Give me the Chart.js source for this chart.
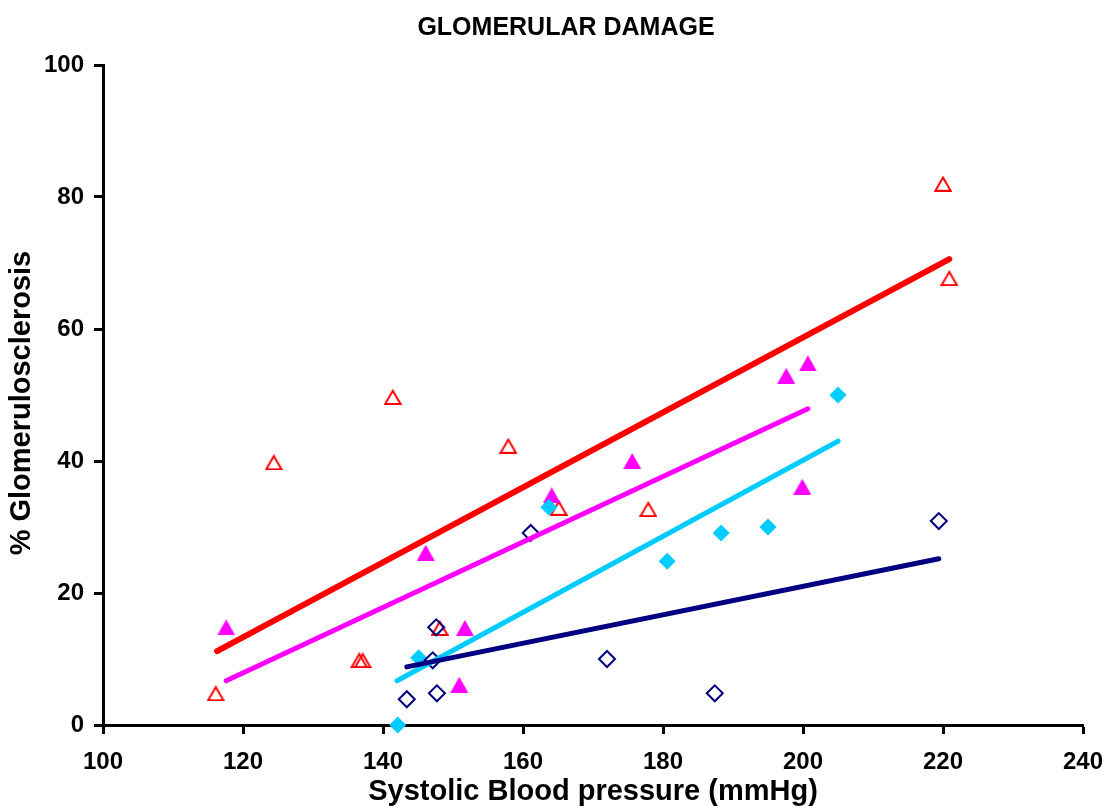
<!DOCTYPE html>
<html>
<head>
<meta charset="utf-8">
<script src="https://cdn.jsdelivr.net/npm/chart.js@4/dist/chart.umd.min.js"></script>
<style>
  html, body { margin: 0; padding: 0; background: #fff; }
  #wrap { width: 1108px; height: 809px; }
</style>
</head>
<body>
<div id="wrap"><canvas id="chart" width="1108" height="809"></canvas></div>
<script>
// chart text
const chartTitle = 'GLOMERULAR DAMAGE';
const xTitle = 'Systolic Blood pressure (mmHg)';
const yTitle = '% Glomerulosclerosis  ';

// axis ranges / ticks
const xTicks = [100, 120, 140, 160, 180, 200, 220, 240];
const yTicks = [0, 20, 40, 60, 80, 100];

// open red triangles
const redX = [116.1, 124.4, 136.6, 137.1, 141.4, 148.1, 157.9, 165.1, 177.9, 220.0, 220.9];
const redY = [4.8, 39.8, 9.8, 9.8, 49.7, 14.7, 42.3, 32.9, 32.7, 82.0, 67.7];

// filled magenta triangles
const magX = [117.6, 146.1, 150.9, 151.7, 164.1, 175.6, 197.6, 200.7, 199.9];
const magY = [14.8, 26.1, 6.1, 14.7, 34.8, 40.0, 52.9, 54.8, 36.1];

// filled cyan diamonds
const cyanX = [142.1, 145.1, 163.7, 180.6, 188.3, 195.0, 205.0];
const cyanY = [0, 10.2, 33.0, 24.8, 29.1, 30.0, 50.0];

// open navy diamonds
const navyX = [143.4, 147.7, 147.1, 147.6, 161.1, 172.0, 187.4, 219.4];
const navyY = [3.9, 4.8, 9.8, 14.8, 29.1, 10.0, 4.8, 30.9];

// trend line end points
const redLineX = [116.3, 220.9];
const redLineY = [11.2, 70.6];
const magLineX = [117.6, 200.7];
const magLineY = [6.7, 47.9];
const cyanLineX = [142.0, 205.0];
const cyanLineY = [6.7, 43.0];
const navyLineX = [143.4, 219.4];
const navyLineY = [8.8, 25.2];

const RED = '#ff0000';
const MAGENTA = '#ff00ff';
const CYAN = '#00ccff';
const NAVY = '#000080';
const FONT = '"Liberation Sans", Arial, sans-serif';

const pts = (xs, ys) => xs.map((x, i) => ({ x: x, y: ys[i] }));

// triangle marker as a small canvas, centred on its box like the original
function triangleIcon(color, filled) {
    const w = 18, h = 16;
    const c = document.createElement('canvas');
    c.width = w;
    c.height = h;
    const g = c.getContext('2d');
    g.beginPath();
    if (filled) {
        g.moveTo(w / 2, 0);
        g.lineTo(w, h);
        g.lineTo(0, h);
        g.closePath();
        g.fillStyle = color;
        g.fill();
    } else {
        g.moveTo(w / 2, 1.8);
        g.lineTo(w - 1.3, h - 1);
        g.lineTo(1.3, h - 1);
        g.closePath();
        g.lineWidth = 2;
        g.lineJoin = 'miter';
        g.strokeStyle = color;
        g.stroke();
    }
    return c;
}

const markers = (xs, ys, style, radius, color, filled, order) => ({
    type: 'scatter',
    data: pts(xs, ys),
    pointStyle: style,
    pointRadius: radius,
    pointHoverRadius: radius,
    borderColor: color,
    backgroundColor: filled ? color : 'rgba(0,0,0,0)',
    pointBorderWidth: filled ? 0 : 2,
    clip: false,
    order: order
});

const trend = (xs, ys, color, width, order) => ({
    type: 'line',
    data: pts(xs, ys),
    showLine: true,
    borderColor: color,
    borderWidth: width,
    borderCapStyle: 'round',
    pointRadius: 0,
    fill: false,
    clip: false,
    order: order
});

const titlePlugin = {
    id: 'topTitle',
    afterDraw(chart) {
        const ctx = chart.ctx;
        ctx.save();
        ctx.font = `bold 25px ${FONT}`;
        ctx.fillStyle = '#000';
        ctx.textAlign = 'center';
        ctx.textBaseline = 'middle';
        ctx.fillText(chartTitle, 566, 28);
        ctx.restore();
    }
};

const ctx = document.getElementById('chart').getContext('2d');
new Chart(ctx, {
    type: 'scatter',
    data: {
        datasets: [
            trend(navyLineX, navyLineY, NAVY, 5, 0),
            trend(cyanLineX, cyanLineY, CYAN, 5, 1),
            trend(magLineX, magLineY, MAGENTA, 5, 2),
            trend(redLineX, redLineY, RED, 6, 3),
            markers(navyX, navyY, 'rectRot', 8, NAVY, false, 4),
            markers(cyanX, cyanY, 'rectRot', 8.5, CYAN, true, 5),
            markers(magX, magY, triangleIcon(MAGENTA, true), 10, MAGENTA, true, 6),
            markers(redX, redY, triangleIcon(RED, false), 10, RED, false, 7)
        ]
    },
    options: {
        responsive: false,
        animation: false,
        devicePixelRatio: 1,
        layout: { padding: { top: 65, right: 25, left: 0, bottom: 0 } },
        plugins: {
            legend: { display: false },
            tooltip: { enabled: false }
        },
        scales: {
            x: {
                type: 'linear',
                min: xTicks[0],
                max: xTicks[xTicks.length - 1],
                afterBuildTicks: (s) => { s.ticks = xTicks.map(v => ({ value: v })); },
                afterFit: (s) => {
                    s.height = 84;
                    s.paddingRight = 0;
                    s.paddingLeft = 0;
                },
                ticks: {
                    color: '#000',
                    padding: 14,
                    font: { family: FONT, size: 24, weight: 'bold' }
                },
                grid: {
                    drawOnChartArea: false,
                    drawTicks: true,
                    tickLength: 9,
                    tickWidth: 3,
                    tickColor: '#000'
                },
                border: { display: true, color: '#000', width: 3 },
                title: {
                    display: true,
                    text: xTitle,
                    color: '#000',
                    padding: { top: 0, bottom: 0 },
                    font: { family: FONT, size: 29, weight: 'bold' }
                }
            },
            y: {
                type: 'linear',
                min: yTicks[0],
                max: yTicks[yTicks.length - 1],
                afterBuildTicks: (s) => { s.ticks = yTicks.map(v => ({ value: v })); },
                afterFit: (s) => { s.width = 103; },
                ticks: {
                    color: '#000',
                    padding: 10,
                    font: { family: FONT, size: 24, weight: 'bold' }
                },
                grid: {
                    drawOnChartArea: false,
                    drawTicks: true,
                    tickLength: 9,
                    tickWidth: 3,
                    tickColor: '#000'
                },
                border: { display: true, color: '#000', width: 3 },
                title: {
                    display: true,
                    text: yTitle,
                    color: '#000',
                    padding: { top: 5, bottom: 0 },
                    font: { family: FONT, size: 29, weight: 'bold' }
                }
            }
        }
    },
    plugins: [titlePlugin]
});
</script>
</body>
</html>
